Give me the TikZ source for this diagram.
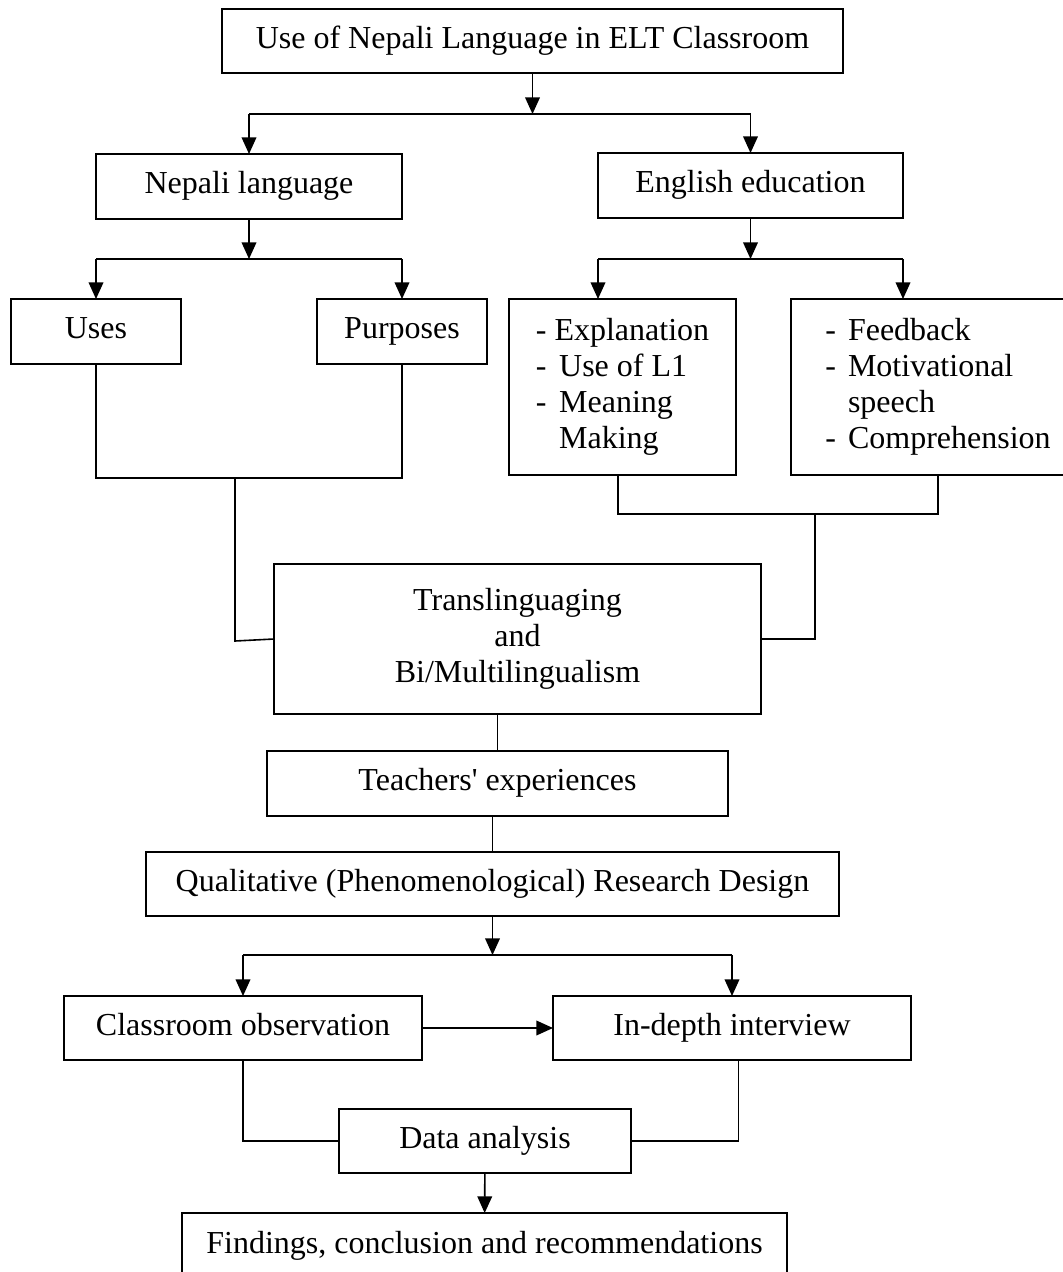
\documentclass[tikz,border=0pt]{standalone}
\usepackage{fontspec}
\setmainfont{Liberation Serif}[Ligatures=TeXOff]
\usetikzlibrary{arrows.meta}
\newcommand\mybox[6]{%
  \pgfmathsetmacro\myw{(#4-#2)*0.75}%
  \pgfmathsetmacro\myh{(#5-#3)*0.75}%
  \pgfmathsetmacro\myx{(#2+#4)/2}%
  \pgfmathsetmacro\myy{(#3+#5)/2}%
  \node[box, minimum width=\myw pt, minimum height=\myh pt] (#1) at (\myx,\myy) {#6};}
\begin{document}
\begin{tikzpicture}[x=0.75pt,y=-0.75pt,
  box/.style={draw, line width=1.5pt, inner sep=0pt, outer sep=0pt, align=center,
    font=\fontsize{24}{27}\selectfont},
  conn/.style={line width=1.2pt},
  arr/.style={line width=1.2pt, -{Triangle[length=12.5pt,width=11pt]}}]
\useasboundingbox (0,0) rectangle (1063,1272);
\clip (0,0) rectangle (1063,1272);
\fill[white] (0,0) rectangle (1063,1272);

\mybox{top}{222}{9}{843}{73}{\strut Use of Nepali Language in ELT Classroom}
\mybox{nep}{96}{154}{402}{219}{\strut Nepali language}
\mybox{eng}{598}{153}{903}{218}{\strut English education}
\mybox{uses}{11}{299}{181}{364}{\strut Uses}
\mybox{purp}{317}{299}{487}{364}{\strut Purposes}
\mybox{expl}{509}{299}{736}{475}{\begin{tabular}{@{}l@{\hspace{9.5pt}}l@{}}\multicolumn{2}{@{}l@{}}{- Explanation}\\ - & Use of L1\\ - & Meaning\\ & Making\end{tabular}}
\mybox{feed}{791}{299}{1085}{475}{\begin{tabular}{@{}l@{\hspace{9pt}}l@{}} - & Feedback\\ - & Motivational\\ & speech\\ - & Comprehension\end{tabular}}
\mybox{trans}{274}{564}{761}{714}{Translinguaging\\and\\Bi/Multilingualism}
\mybox{teach}{267}{751}{728}{816}{\strut Teachers' experiences}
\mybox{qual}{146}{852}{839}{916}{\strut Qualitative (Phenomenological) Research Design}
\mybox{cls}{64}{996}{422}{1060}{\strut Classroom observation}
\mybox{ind}{553}{996}{911}{1060}{\strut In-depth interview}
\mybox{data}{339}{1109}{631}{1173}{\strut Data analysis}
\mybox{find}{182}{1213}{787}{1279}{\strut Findings, conclusion and recommendations}

% top split
\coordinate (j1) at (532.5,114);
\draw[arr] (top) -- (j1);
\draw[conn] (nep.north |- j1) -- (eng.north |- j1);
\draw[arr] (nep.north |- j1) -- (nep.north);
\draw[arr] (eng.north |- j1) -- (eng.north);

% Nepali language split
\coordinate (j2) at (249,259);
\draw[arr] (nep) -- (j2);
\draw[conn] (uses.north |- j2) -- (purp.north |- j2);
\draw[arr] (uses.north |- j2) -- (uses.north);
\draw[arr] (purp.north |- j2) -- (purp.north);

% English education split
\coordinate (j3) at (750.5,259);
\coordinate (a1) at (598,259);
\coordinate (a2) at (903,259);
\draw[arr] (eng) -- (j3);
\draw[conn] (a1) -- (a2);
\draw[arr] (a1) -- (a1 |- expl.north);
\draw[arr] (a2) -- (a2 |- feed.north);

% join to Translinguaging
\coordinate (k1) at (235,478);
\coordinate (k2) at (235,641);
\draw[conn] (uses.south) |- (k1) -| (purp.south);
\draw[conn] (k1) -- (k2) -- (trans.west);
\coordinate (k3) at (815,514);
\draw[conn] ([xshift=-3.4pt]expl.south) |- (k3) -| (feed.south);
\draw[conn] (k3) |- (trans.east);

% vertical chain
\draw[conn] (teach.north) -- (teach.north |- trans.south);
\draw[conn] (qual.north) -- (qual.north |- teach.south);

% research split
\coordinate (j4) at (492.5,955);
\draw[arr] (qual) -- (j4);
\draw[conn] (cls.north |- j4) -- (ind.north |- j4);
\draw[arr] (cls.north |- j4) -- (cls.north);
\draw[arr] (ind.north |- j4) -- (ind.north);
\draw[arr] (cls) -- (ind);

% to data analysis
\draw[conn] (cls.south) |- (data.west);
\draw[conn] ([xshift=5pt]ind.south) |- (data.east);
\draw[arr] (data) -- (find);
\end{tikzpicture}
\end{document}
